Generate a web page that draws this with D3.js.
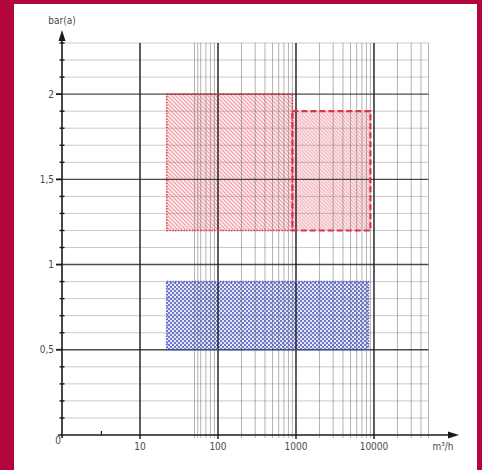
<!DOCTYPE html>
<html>
<head>
<meta charset="utf-8">
<script src="https://cdn.jsdelivr.net/npm/d3@7"></script>
<style>
  html, body { margin: 0; padding: 0; background: #b5063b; }
  svg { display: block; }
</style>
</head>
<body>
<div id="chart"></div>
<script>
// ---- data ----
const xLabelValues = [1, 10, 100, 1000, 10000];
const xLabels = ["0", "10", "100", "1000", "10000"];
const xMinorGrid = [50, 55, 60, 70, 80, 90,
                    200, 300, 400, 500, 600, 700, 800, 900,
                    2000, 3000, 4000, 5000, 6000, 7000, 8000, 9000,
                    20000, 30000, 40000, 50000];
const xMajorGrid = [10, 100, 1000, 10000];
const xExtraTicks = [3.2];

const yLabelValues = [0.5, 1, 1.5, 2];
const yLabels = ["0,5", "1", "1,5", "2"];
const yMinorGrid = [0.1, 0.2, 0.3, 0.4, 0.6, 0.7, 0.8, 0.9, 1.1, 1.2, 1.3, 1.4,
                    1.6, 1.7, 1.8, 1.9, 2.1, 2.2, 2.3];

// operating ranges: [x0, x1, y0, y1]
const boxNames = ["redDotted", "redDashed", "blue"];
const boxX0 = [22, 900, 22];
const boxX1 = [900, 9000, 8500];
const boxY0 = [1.2, 1.2, 0.5];
const boxY1 = [2.0, 1.9, 0.9];

// ---- layout ----
const W = 482, H = 470;
const svg = d3.select("#chart").append("svg")
  .attr("width", W).attr("height", H);

const x = d3.scaleLog().domain([1, 50000]).range([62, 428.5]);
const y = d3.scaleLinear().domain([0, 2.3]).range([435, 43]);
const gridTop = y(2.3), gridRight = x(50000);

svg.append("rect").attr("x", 14).attr("y", 4).attr("width", 463).attr("height", H - 4)
  .attr("fill", "#ffffff");

const defs = svg.append("defs");

// hatch for first red range
const h1 = defs.append("pattern").attr("id", "hatch1")
  .attr("patternUnits", "userSpaceOnUse").attr("width", 4).attr("height", 4);
h1.append("rect").attr("width", 4).attr("height", 4).attr("fill", "#fdecee");
h1.append("path").attr("d", "M-1,-1L5,5M3,-1L5,1M-1,3L1,5")
  .attr("stroke", "#f29ba5").attr("stroke-width", 1.1);

// finer hatch for second red range
const h2 = defs.append("pattern").attr("id", "hatch2")
  .attr("patternUnits", "userSpaceOnUse").attr("width", 3.6).attr("height", 3.6);
h2.append("rect").attr("width", 3.6).attr("height", 3.6).attr("fill", "#fdeef0");
h2.append("path").attr("d", "M-1,-1L4.6,4.6M2.6,-1L4.6,1M-1,2.6L1,4.6")
  .attr("stroke", "#f2a3ac").attr("stroke-width", 1);

// checker for blue range
const ch = defs.append("pattern").attr("id", "checker")
  .attr("patternUnits", "userSpaceOnUse").attr("width", 4).attr("height", 4);
ch.append("rect").attr("width", 4).attr("height", 4).attr("fill", "#e6e8f8");
ch.append("rect").attr("width", 2).attr("height", 2).attr("fill", "#6e79cb");
ch.append("rect").attr("x", 2).attr("y", 2).attr("width", 2).attr("height", 2).attr("fill", "#6e79cb");

const boxFill = { redDotted: "url(#hatch1)", redDashed: "url(#hatch2)", blue: "url(#checker)" };
const boxStroke = { redDotted: "#e3344a", redDashed: "#e0304a", blue: "#5563c4" };
const boxDash = { redDotted: "1.4,1.4", redDashed: "6,3", blue: "1.4,1.4" };
const boxWidth = { redDotted: 1.6, redDashed: 2.2, blue: 1.6 };

const boxes = boxNames.map((n, i) => ({ n, x0: boxX0[i], x1: boxX1[i], y0: boxY0[i], y1: boxY1[i] }));

svg.append("g").selectAll("rect").data(boxes).join("rect")
  .attr("x", d => x(d.x0)).attr("y", d => y(d.y1))
  .attr("width", d => x(d.x1) - x(d.x0)).attr("height", d => y(d.y0) - y(d.y1))
  .attr("fill", d => boxFill[d.n]);

// ---- grid ----
const grid = svg.append("g");
grid.selectAll("line.hmin").data(yMinorGrid).join("line")
  .attr("x1", x(1)).attr("x2", gridRight).attr("y1", d => y(d)).attr("y2", d => y(d))
  .attr("stroke", "#8a8a8a").attr("stroke-opacity", 0.45).attr("stroke-width", 1);
grid.selectAll("line.vmin").data(xMinorGrid).join("line")
  .attr("x1", d => x(d)).attr("x2", d => x(d)).attr("y1", gridTop).attr("y2", y(0) + 3)
  .attr("stroke", "#6a6a6a").attr("stroke-opacity", 0.5).attr("stroke-width", 1);
grid.selectAll("line.hmaj").data(yLabelValues).join("line")
  .attr("x1", x(1)).attr("x2", gridRight).attr("y1", d => y(d)).attr("y2", d => y(d))
  .attr("stroke", "#2a2a2a").attr("stroke-opacity", 0.85).attr("stroke-width", 1.4);
grid.selectAll("line.vmaj").data(xMajorGrid).join("line")
  .attr("x1", d => x(d)).attr("x2", d => x(d)).attr("y1", gridTop).attr("y2", y(0) + 4)
  .attr("stroke", "#1e1e1e").attr("stroke-opacity", 0.9).attr("stroke-width", 1.6);

// range outlines on top
svg.append("g").selectAll("rect").data(boxes).join("rect")
  .attr("x", d => x(d.x0)).attr("y", d => y(d.y1))
  .attr("width", d => x(d.x1) - x(d.x0)).attr("height", d => y(d.y0) - y(d.y1))
  .attr("fill", "none").attr("stroke", d => boxStroke[d.n])
  .attr("stroke-width", d => boxWidth[d.n]).attr("stroke-dasharray", d => boxDash[d.n]);

// ---- axes ----
const ax = svg.append("g").attr("stroke", "#1a1a1a");
ax.append("line").attr("x1", x(1) - 4).attr("x2", 452).attr("y1", y(0)).attr("y2", y(0)).attr("stroke-width", 1.6);
ax.append("line").attr("x1", x(1)).attr("x2", x(1)).attr("y1", y(0) + 3).attr("y2", 38).attr("stroke-width", 1.6);
svg.append("path").attr("d", `M459,${y(0)}L448,${y(0) - 3.5}L448,${y(0) + 3.5}Z`).attr("fill", "#1a1a1a");
svg.append("path").attr("d", `M${x(1)},30L${x(1) - 3.5},41L${x(1) + 3.5},41Z`).attr("fill", "#1a1a1a");

// small ticks on y axis
ax.selectAll("line.yt").data(yMinorGrid).join("line")
  .attr("x1", x(1) - 2.5).attr("x2", x(1) + 2.5).attr("y1", d => y(d)).attr("y2", d => y(d))
  .attr("stroke-width", 1.4);
ax.selectAll("line.yl").data(yLabelValues).join("line")
  .attr("x1", x(1) - 6).attr("x2", x(1)).attr("y1", d => y(d)).attr("y2", d => y(d))
  .attr("stroke-width", 1.8);
ax.selectAll("line.xt").data(xExtraTicks).join("line")
  .attr("x1", d => x(d)).attr("x2", d => x(d)).attr("y1", y(0) - 4).attr("y2", y(0))
  .attr("stroke-width", 1.2);

// ---- labels ----
const font = "'Liberation Sans Narrow', 'DejaVu Sans Condensed', sans-serif";
const lab = svg.append("g").attr("font-family", font).attr("font-size", 10).attr("fill", "#4a4a4a");

lab.selectAll("text.yl").data(yLabelValues).join("text")
  .attr("x", x(1) - 8).attr("y", d => y(d) + 3.5).attr("text-anchor", "end")
  .text((d, i) => yLabels[i]);

lab.selectAll("text.xl").data(xLabelValues).join("text")
  .attr("x", (d, i) => x(d) + (i === 0 ? -4 : 0)).attr("y", (d, i) => i === 0 ? y(0) + 9 : y(0) + 15)
  .attr("text-anchor", "middle")
  .text((d, i) => xLabels[i]);

lab.append("text").attr("x", x(1)).attr("y", 24).attr("text-anchor", "middle").text("bar(a)");
lab.append("text").attr("x", 443).attr("y", y(0) + 15).attr("text-anchor", "middle").text("m³/h");
</script>
</body>
</html>
